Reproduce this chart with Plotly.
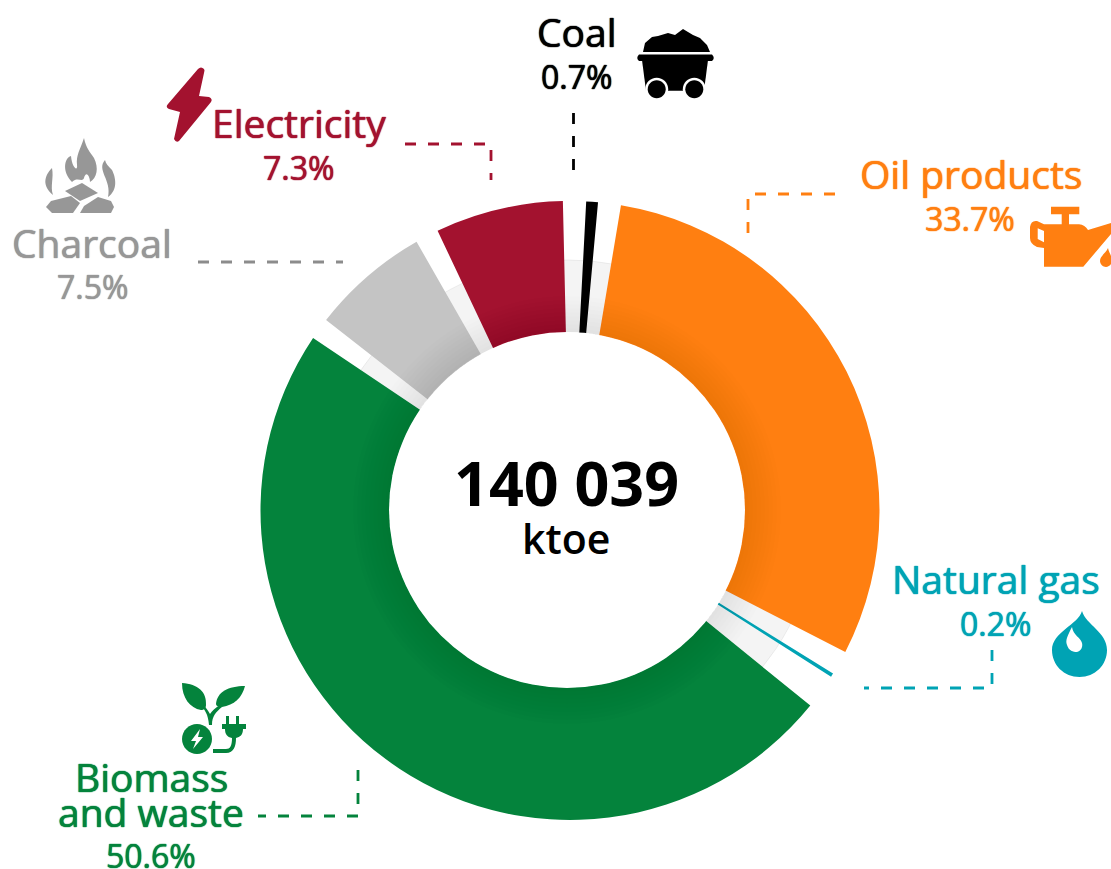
import plotly.graph_objects as go

# ---- data ----
categories = ["Coal", "Oil products", "Natural gas", "Biomass and waste", "Charcoal", "Electricity"]
stated_share = [0.7, 33.7, 0.2, 50.6, 7.5, 7.3]
# arc length of each drawn sector and of the white gap after it, % of the full circle
drawn_arc = [0.61, 29.92, 0.19, 48.56, 6.19, 6.67]
gap_after = [1.19, 1.28, 1.83, 1.14, 1.22, 1.20]
total_ktoe = "140 039"
unit = "ktoe"

# ---- styling ----
W, H = 1111, 869
FONT = "Open Sans"
colors = ["#000000", "#FF7F11", "#00A3B4", "#04833C", "#C4C4C4", "#A3122F"]
text_colors = ["#000000", "#FF7F11", "#00A3B4", "#04833C", "#979797", "#A3122F"]
line_colors = ["#000000", "#FF7F11", "#00A3B4", "#04833C", "#8C8C8C", "#A3122F"]
CX, CY, R_IN = 567, 510, 178
SX, SY, R_OUT = 570, 510.5, 309.5
BX, BY, R_BAND = 568, 510, 250


def dom(r, cx=CX, cy=CY):
    return dict(x=[(cx - r) / W, (cx + r) / W], y=[1 - (cy + r) / H, 1 - (cy - r) / H])


fig = go.Figure()

# pale band under the sectors
fig.add_trace(go.Pie(values=[1], domain=dom(R_BAND, BX, BY), hole=0.5, sort=False,
                     marker=dict(colors=["#F4F4F4"], line=dict(color="#DDDDDD", width=0.5)),
                     textinfo="none", hoverinfo="skip", showlegend=False))

# sectors, alternating with transparent gaps
vals, cols, names = [], [], []
for c, a, g, col in zip(categories, drawn_arc, gap_after, colors):
    vals += [a, g]
    cols += [col, "rgba(0,0,0,0)"]
    names += [c, ""]
fig.add_trace(go.Pie(values=vals, labels=[n or f"gap{i}" for i, n in enumerate(names)],
                     domain=dom(R_OUT, SX, SY), hole=0.5, sort=False, direction="clockwise", rotation=3.0,
                     marker=dict(colors=cols, line=dict(width=0)),
                     textinfo="none", hoverinfo="skip", showlegend=False))

# white centre
fig.add_trace(go.Pie(values=[1], domain=dom(R_IN), sort=False,
                     marker=dict(colors=["#FFFFFF"], line=dict(width=0)),
                     textinfo="none", hoverinfo="skip", showlegend=False))

# soft shadow on the inner edge
for r in range(182, 218, 4):
    fig.add_trace(go.Pie(values=[1], domain=dom(r), hole=R_IN / r, sort=False,
                         marker=dict(colors=["rgba(0,0,0,0.006)"], line=dict(width=0)),
                         textinfo="none", hoverinfo="skip", showlegend=False))

# dashed leaders
leaders = [
    ([573.5, 573.5], [113, 172]),
    ([835, 748, 748], [194, 194, 242]),
    ([992, 992, 864], [650, 688, 688]),
    ([358, 358, 258], [770, 816, 816]),
    ([198, 343], [262, 262]),
    ([405, 491, 491], [144, 144, 180]),
]
for (xs, ys), col in zip(leaders, line_colors):
    fig.add_trace(go.Scatter(x=xs, y=ys, mode="lines", hoverinfo="skip", showlegend=False,
                             line=dict(color=col, width=2.8, dash="11px,12px")))

# texts
def label(x, y, text, color, size, weight=400, thick=True):
    f = dict(family=FONT, size=size, color=color, weight=weight)
    if thick:
        f["shadow"] = f"0 0 1px {color}, 0 0 1px {color}"
    fig.add_annotation(x=x, y=y, text=text, showarrow=False, xanchor="center", yanchor="middle", font=f)


NAME_SIZE, PCT_SIZE = 39, 32
pct = [f"{v}%" for v in stated_share]
label(577, 31, categories[0], text_colors[0], NAME_SIZE)
label(576, 76, pct[0], text_colors[0], PCT_SIZE)
label(971, 173, categories[1], text_colors[1], NAME_SIZE)
label(970, 218, pct[1], text_colors[1], PCT_SIZE)
label(996, 578, categories[2], text_colors[2], NAME_SIZE)
label(995, 623, pct[2], text_colors[2], PCT_SIZE)
label(151, 776, "Biomass", text_colors[3], NAME_SIZE)
label(151, 811, "and waste", text_colors[3], NAME_SIZE)
label(151, 855, pct[3], text_colors[3], PCT_SIZE)
label(92, 242, categories[4], text_colors[4], NAME_SIZE)
label(92, 286, pct[4], text_colors[4], PCT_SIZE)
label(299, 122, categories[5], text_colors[5], NAME_SIZE)
label(298, 167, pct[5], text_colors[5], PCT_SIZE)
label(566.5, 482, total_ktoe, "#000000", 61, 700, False)
label(566, 538, unit, "#000000", 41, 600, False)


# icons
def icon(path, color):
    fig.add_shape(type="path", path=path, xref="x", yref="y", fillcolor=color, layer="above",
                  line=dict(color=color, width=0))


def circle(x, y, r):
    k = 0.5523 * r
    return (f"M{x-r} {y} C{x-r} {y-k} {x-k} {y-r} {x} {y-r} C{x+k} {y-r} {x+r} {y-k} {x+r} {y} "
            f"C{x+r} {y+k} {x+k} {y+r} {x} {y+r} C{x-k} {y+r} {x-r} {y+k} {x-r} {y} Z")


# lightning
icon("M198 69 Q201 66 204 69 Q205 70 204 73 L199 96 L209 97 Q213 99 211 102 L179 141 Q176 143 174 139 "
     "L180 112 L169 109 Q165 107 168 104 Z", colors[5])

# charcoal fire
g = "#979797"
icon("M46 207 L51 201 L71 196 L80 203 L73 213 L52 213 Z", g)
icon("M80 213 L84 206 L98 197 L111 201 L114 207 L111 213 Z", g)
icon("M65 191 L82 183 L98 193 L80 201 Z", g)
icon("M84 138 C80 150 76 155 77 165 C78 172 72 168 71 156 C64 158 62 172 72 182 C78 176 82 183 84 178 C86 170 90 176 90 182 "
     "C97 178 99 168 94 158 C90 152 86 148 84 138 Z", g)
icon("M52 168 C44 176 42 186 53 195 C50 186 54 178 52 168 Z", g)
icon("M105 160 C96 170 112 180 108 197 C118 190 116 178 112 170 C108 166 106 164 105 160 Z", g)

# coal cart
k = "#000000"
icon("M643 52 L645 43 L652 37 L658 36 L668 33 L675 35 L683 29 L693 35 L700 38 L707 45 L710 52 Z", k)
icon("M639 54.5 L712 54.5 Q715.5 58 712 61 L639 61 Q635.5 58 639 54.5 Z", k)
icon("M642 60 L708 60 L704 90.7 L646 90.7 Z", k)
icon(circle(656.7, 89.3, 11.5), "#FFFFFF")
icon(circle(694.3, 89.3, 11.5), "#FFFFFF")
icon(circle(656.7, 89.3, 9), k)
icon(circle(694.3, 89.3, 9), k)

# oil can
o = "#FF7F11"
icon("M1051 206.7 L1079.3 206.7 L1079.3 214.3 L1069 214.3 L1069 224.3 L1079 224.3 Q1085 225 1088 230 L1111 223 L1111 234 "
     "L1083.3 266.7 L1044 266.7 L1044 248 L1037 247 Q1030 244 1030 238 L1030 227 Q1031 220 1037 221 L1044 224.3 L1061.7 224.3 "
     "L1061.7 214.3 L1051 214.3 Z M1037.7 228.3 L1037.7 239 L1044 242.3 L1044 231 Z", o)
icon("M1108 248 C1106 253 1100 256 1100 261 C1100 264 1103 267 1106 267 C1109 267 1112 264 1112 261 C1112 256 1109 253 1108 248 Z", o)

# gas drop
t = "#00A3B4"
icon("M1082 611 C1078 625 1052 632 1052 650 C1052 665 1064 677 1079.5 677 C1095 677 1107 665 1107 650 C1107 632 1086 625 1082 611 Z "
     "M1072 627 C1068 635 1065 640 1067 645 C1069 651 1073 652 1077 652 C1081 651 1083 647 1082 643 C1081 638 1073 635 1072 627 Z", t)

# biomass and plug
b = "#04833C"
icon("M182 683 C198 684 207 692 206 705 C206 708 204 710 201 710 C190 708 182 698 182 683 Z", b)
icon("M245 686 C228 686 217 692 216 704 C216 706 218 707 222 707 C234 705 242 698 245 686 Z", b)
icon("M200 704 C205 710 208 714 209 725 L212 725 C212 716 216 712 222 707 L220 705 C215 708 212 711 210 714 C208 710 204 706 202 702 Z", b)
icon(circle(197, 739, 15), b)
icon("M200 729 L191 741 L196 741 L193 749 L203 737 L198 737 Z", "#FFFFFF")
icon("M226 716 L229 716 L229 724 L236 724 L236 716 L239 716 L239 724 L246 724 L246 729 L243 729 C243 735 240 737 236 738 "
     "C236 746 234 753 226 753 L213 753 L213 749 L226 749 C230 749 232 746 232 738 C227 737 225 734 225 729 L222 729 L222 724 L226 724 Z", b)

fig.update_layout(
    width=W, height=H, margin=dict(l=0, r=0, t=0, b=0), paper_bgcolor="#FFFFFF", plot_bgcolor="#FFFFFF",
    xaxis=dict(visible=False, range=[0, W], fixedrange=True),
    yaxis=dict(visible=False, range=[H, 0], fixedrange=True),
    showlegend=False, hovermode=False,
)
fig.write_html("out.html", post_script="document.body.style.margin='0';", config=dict(displayModeBar=False))
